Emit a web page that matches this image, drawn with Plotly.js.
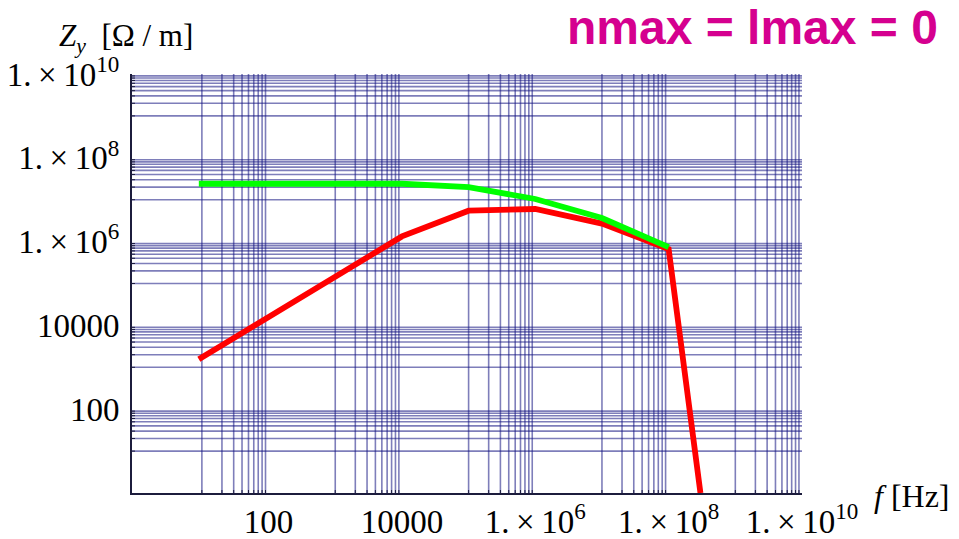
<!DOCTYPE html>
<html>
<head>
<meta charset="utf-8">
<script src="https://cdn.plot.ly/plotly-3.0.1.min.js"></script>
<style>html,body{margin:0;padding:0;background:#fff;}#chart{width:959px;height:539px;}</style>
</head>
<body>
<div id="chart"></div>
<script>
// Frequencies (Hz)
const freqGreen = [9, 1e4, 1e5, 1e6, 1e7, 1e8];
const zyGreen   = [2.4e7, 2.4e7, 2.0e7, 1.04e7, 3.66e6, 7.4e5];
const freqRed   = [9, 1e4, 1e5, 1e6, 1e7, 1e8, 3e8];
const zyRed     = [1550, 1.33e6, 5.47e6, 6.0e6, 2.68e6, 6.65e5, 1];

// Tick labels
const xTickVals = [1e2, 1e4, 1e6, 1e8, 1e10];
const xTickText = ["100", "10000", "1.\u2009\u00d7\u200910<sup>6</sup>", "1.\u2009\u00d7\u200910<sup>8</sup>", "1.\u2009\u00d7\u200910<sup>10</sup>"];
const yTickVals = [1e2, 1e4, 1e6, 1e8, 1e10];
const yTickText = ["100", "10000", "1.\u2009\u00d7\u200910<sup>6</sup>", "1.\u2009\u00d7\u200910<sup>8</sup>", "1.\u2009\u00d7\u200910<sup>10</sup>"];

// Grid line decades and multipliers
const gridDecades = [1, 3, 5, 7, 9];
const gridMultipliers = [1, 2, 3, 4, 5, 6, 7, 8, 9];
const gridVals = [];
gridDecades.forEach(d => gridMultipliers.forEach(m => gridVals.push(m * Math.pow(10, d))));

const tickFont = {family: "Liberation Serif, Times New Roman, serif", size: 33, color: "#000"};
const gridColor = "rgba(20,20,130,0.55)";
const axisColor = "#1c1c3c";

const shapes = [];
gridVals.forEach(v => {
  shapes.push({type: "line", layer: "below", xref: "x", yref: "paper",
    x0: v, x1: v, y0: 0, y1: 1,
    line: {color: gridColor, width: 1.6}});
  shapes.push({type: "line", layer: "below", xref: "paper", yref: "y",
    x0: 0, x1: 1, y0: v, y1: v,
    line: {color: gridColor, width: 1.6}});
  // small inside ticks
  shapes.push({type: "line", xref: "x", yref: "paper", ysizemode: "pixel", yanchor: 0,
    x0: v, x1: v, y0: 0, y1: 3,
    line: {color: axisColor, width: 1}});
  shapes.push({type: "line", xref: "paper", yref: "y", xsizemode: "pixel", xanchor: 0,
    x0: 0, x1: 3, y0: v, y1: v,
    line: {color: axisColor, width: 1}});
});

const axisCommon = {
  type: "log",
  showgrid: false,
  zeroline: false,
  showline: true,
  linecolor: axisColor,
  linewidth: 2,
  ticks: "",
  tickmode: "array",
  tickfont: tickFont
};

const traces = [
  {x: freqRed, y: zyRed, type: "scatter", mode: "lines",
   line: {color: "rgb(255,0,0)", width: 5.8}, hoverinfo: "skip"},
  {x: freqGreen, y: zyGreen, type: "scatter", mode: "lines",
   line: {color: "rgb(0,255,0)", width: 5.8}, hoverinfo: "skip"}
];

const layout = {
  width: 959, height: 539,
  margin: {l: 132, r: 157, t: 74, b: 46},
  paper_bgcolor: "#fff", plot_bgcolor: "#fff",
  showlegend: false,
  title: {
    text: "<b>nmax = lmax = 0</b>",
    font: {family: "Liberation Sans, Arial, sans-serif", size: 48, color: "rgb(213,0,143)"},
    xref: "container", x: 0.978, xanchor: "right",
    yref: "container", y: 0.95, yanchor: "middle"
  },
  xaxis: Object.assign({}, axisCommon, {
    range: [-0.048, 10], tickvals: xTickVals, ticktext: xTickText, ticklabelstandoff: -2
  }),
  yaxis: Object.assign({}, axisCommon, {
    range: [0, 10], tickvals: yTickVals, ticktext: yTickText, ticklabelstandoff: 4
  }),
  shapes: shapes,
  annotations: [
    {text: "<i>Z</i><sub><i>y</i></sub>  [\u03a9 / m]", xref: "paper", yref: "paper",
     x: -0.112, xanchor: "left", y: 1.085, yanchor: "middle", showarrow: false,
     font: {family: "Liberation Serif, Times New Roman, serif", size: 31, color: "#000"}},
    {text: "<i>f</i> [Hz]", xref: "paper", yref: "paper",
     x: 1.104, xanchor: "left", y: -0.007, yanchor: "middle", showarrow: false,
     font: {family: "Liberation Serif, Times New Roman, serif", size: 32, color: "#000"}}
  ]
};

Plotly.newPlot("chart", traces, layout, {staticPlot: true, displayModeBar: false});
</script>
</body>
</html>
